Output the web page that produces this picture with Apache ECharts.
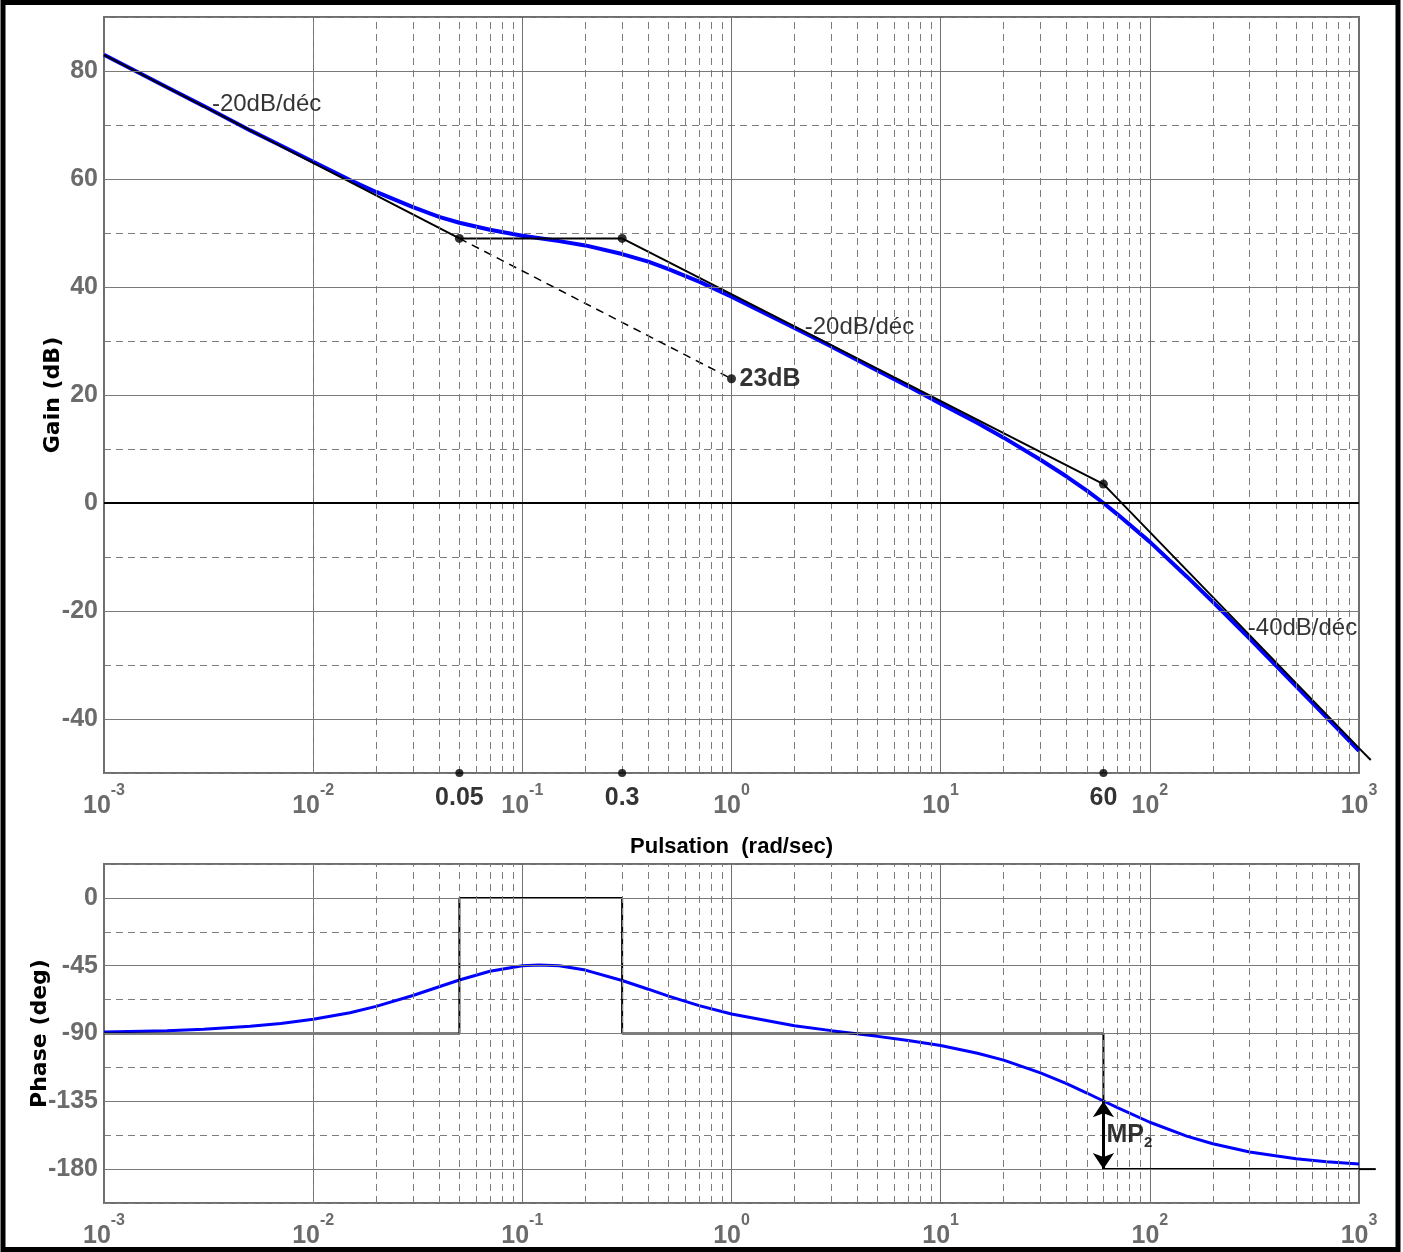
<!DOCTYPE html>
<html>
<head>
<meta charset="utf-8">
<script src="https://cdn.jsdelivr.net/npm/echarts@6/dist/echarts.min.js"></script>
<style>
html,body{margin:0;padding:0;background:#fff;}
#chart{width:1403px;height:1252px;}
</style>
</head>
<body>
<div id="chart"></div>
<script>
// ---------- data ----------
const decades = [0.001, 0.01, 0.1, 1, 10, 100, 1000];
const minorMultipliers = [2, 3, 4, 5, 6, 7, 8, 9];
const gainTicks = [-40, -20, 0, 20, 40, 60, 80];
const phaseTicks = [-180, -135, -90, -45, 0];

const freq = [0.001, 0.002, 0.003, 0.005, 0.007, 0.01, 0.015, 0.02, 0.03, 0.04, 0.05, 0.07,
  0.1, 0.15, 0.2, 0.3, 0.4, 0.5, 0.7, 1, 2, 3, 5, 7, 10, 15, 20, 30, 40, 50, 60, 70, 100, 150, 200, 300, 500, 700, 1000];
const gainDb = [83.0, 77.0, 73.5, 69.0, 66.2, 63.2, 59.8, 57.6, 54.8, 53.0, 51.9, 50.6,
  49.5, 48.5, 47.7, 46.1, 44.7, 43.3, 41.0, 38.2, 32.4, 29.0, 24.5, 21.6, 18.4, 14.8, 12.1, 8.0, 4.9, 2.3, 0.0, -2.1, -7.2, -13.6, -18.3, -25.1, -33.9, -39.7, -45.9];
const phaseFreq = [0.001, 0.002, 0.003, 0.005, 0.007, 0.01, 0.015, 0.02, 0.03, 0.04, 0.05, 0.07,
  0.1, 0.12, 0.15, 0.2, 0.3, 0.4, 0.5, 0.7, 1, 2, 3, 5, 7, 10, 15, 20, 30, 40, 50, 60, 70, 100, 150, 200, 300, 500, 700, 1000];
const phaseDeg = [-89.0, -88.1, -87.1, -85.2, -83.4, -80.6, -76.2, -72.0, -64.8, -59.0, -54.5, -48.7,
  -45.1, -44.5, -45.1, -47.9, -54.8, -60.6, -65.2, -71.5, -77.1, -84.8, -88.1, -91.9, -94.6, -98.0, -103.1, -107.7, -116.1, -123.3, -129.5, -134.8, -139.2, -148.9, -158.1, -163.2, -168.6, -173.1, -175.1, -176.6];

const asymGainFreq = [0.001, 0.05, 0.3, 60, 1000];
const asymGainDb = [83, 49, 49, 3.5, -45.4];
const asymGainTail = [1138, -47.6];        // end of the -40dB/déc asymptote (beyond the frame)
const refSlopeFreq = [0.05, 1];
const refSlopeDb = [49, 23];
const cornerFreq = [0.05, 0.3, 60];
const cornerLabels = ['0.05', '0.3', '60'];
const cornerDotFreq = [0.05, 0.3, 1, 60];
const cornerDotDb = [49, 49, 23, 3.5];

const asymPhaseFreq = [0.001, 0.05, 0.05, 0.3, 0.3, 60, 60];
const asymPhaseDeg = [-90, -90, 0, 0, -90, -90, -135];
const tailPhaseFreq = [60, 1000];
const tailPhaseDeg = [-180, -180];
const tailPhaseEnd = [1203, -180];          // end of the -180° line (beyond the frame)
const marginFreq = 60;
const marginFromDeg = -135;
const marginToDeg = -180;

const slopeTexts = ['-20dB/déc', '-20dB/déc', '-40dB/déc'];
const refText = '23dB';

// ---------- helpers ----------
const zip = (a, b) => a.map((v, i) => [v, b[i]]);
const minorFreqs = [];
decades.slice(0, -1).forEach(d => minorMultipliers.forEach(m => minorFreqs.push(d * m)));

const GRAY_TXT = '#6b6b6b';
const SANS = "'Liberation Sans', Arial, sans-serif";

function xAxisCfg(gridIndex, name) {
  return {
    type: 'log', logBase: 10, gridIndex, min: 0.001, max: 1000, splitNumber: 6,
    name: name || '', nameLocation: 'middle', nameGap: 63, nameMoveOverlap: false,
    nameTextStyle: { fontFamily: SANS, fontWeight: 'bold', fontSize: 22, color: '#000' },
    axisLine: { show: false }, axisTick: { show: false },
    splitLine: { show: true, lineStyle: { color: '#707070', width: 1 } },
    axisLabel: {
      margin: 10,
      formatter: v => '{b|10}{s|' + Math.round(Math.log10(v)) + '}',
      rich: {
        b: { fontFamily: SANS, fontWeight: 'bold', fontSize: 25, color: GRAY_TXT, lineHeight: 36, verticalAlign: 'bottom' },
        s: { fontFamily: SANS, fontWeight: 'bold', fontSize: 16, color: GRAY_TXT, lineHeight: 16, verticalAlign: 'top' }
      }
    }
  };
}

function gridLinesSeries(xi, yi, yMin, majors, thickZero) {
  const data = [];
  minorFreqs.forEach(f => data.push({ xAxis: f, lineStyle: { type: [7, 5], color: '#7c7c7c', width: 1 } }));
  majors.forEach(v => data.push({ yAxis: v, lineStyle: (thickZero && v === 0) ? { type: 'solid', color: '#000', width: 2 } : { type: 'solid', color: '#7a7a7a', width: 1 } }));
  return {
    type: 'line', xAxisIndex: xi, yAxisIndex: yi, z: 1, silent: true,
    data: [[0.001, yMin]], symbol: 'none', lineStyle: { opacity: 0 },
    markLine: { silent: true, symbol: 'none', animation: false, label: { show: false }, data }
  };
}

const chart = echarts.init(document.getElementById('chart'), null, { renderer: 'canvas' });

const option = {
  animation: false,
  backgroundColor: '#fff',
  grid: [
    { left: 104, top: 17, width: 1255, height: 756, show: true, borderColor: '#6e6e6e', borderWidth: 2, backgroundColor: 'transparent' },
    { left: 104, top: 864, width: 1255, height: 339, show: true, borderColor: '#6e6e6e', borderWidth: 2, backgroundColor: 'transparent' }
  ],
  xAxis: [xAxisCfg(0, 'Pulsation  (rad/sec)'), xAxisCfg(1)],
  yAxis: [
    {
      type: 'value', gridIndex: 0, min: -50, max: 90, interval: 10,
      name: 'Gain (dB)', nameLocation: 'middle', nameGap: 40, nameRotate: 90, nameMoveOverlap: false,
      nameTextStyle: { fontFamily: 'DejaVu Sans', fontWeight: 'bold', fontSize: 22, color: '#000' },
      axisLine: { show: false }, axisTick: { show: false },
      splitLine: { show: true, lineStyle: { type: [7, 5], color: '#7c7c7c', width: 1 } },
      axisLabel: {
        margin: 6, fontFamily: SANS, fontWeight: 'bold', fontSize: 25, color: GRAY_TXT,
        formatter: v => (gainTicks.indexOf(v) >= 0 ? String(v) : '')
      }
    },
    {
      type: 'value', gridIndex: 1, min: -202.5, max: 22.5, interval: 22.5,
      name: 'Phase (deg)', nameLocation: 'middle', nameGap: 53, nameRotate: 90, nameMoveOverlap: false,
      nameTextStyle: { fontFamily: 'DejaVu Sans', fontWeight: 'bold', fontSize: 22, color: '#000' },
      axisLine: { show: false }, axisTick: { show: false },
      splitLine: { show: true, lineStyle: { type: [7, 5], color: '#7c7c7c', width: 1 } },
      axisLabel: {
        margin: 6, fontFamily: SANS, fontWeight: 'bold', fontSize: 25, color: GRAY_TXT,
        formatter: v => (phaseTicks.indexOf(v) >= 0 ? String(v) : '')
      }
    }
  ],
  series: [
    gridLinesSeries(0, 0, -50, gainTicks, true),
    gridLinesSeries(1, 1, -202.5, phaseTicks, false),
    // gain curve
    { type: 'line', xAxisIndex: 0, yAxisIndex: 0, z: 3, data: zip(freq, gainDb), symbol: 'none', clip: false,
      lineStyle: { color: '#0000ff', width: 4 } },
    // asymptotes (gain)
    { type: 'line', xAxisIndex: 0, yAxisIndex: 0, z: 4, data: zip(asymGainFreq, asymGainDb), symbol: 'none', clip: false,
      lineStyle: { color: '#000', width: 2 } },
    { type: 'line', xAxisIndex: 0, yAxisIndex: 0, z: 4, data: zip(refSlopeFreq, refSlopeDb), symbol: 'none',
      lineStyle: { color: '#000', width: 1.5, type: [8, 6] } },
    { type: 'scatter', xAxisIndex: 0, yAxisIndex: 0, z: 5, data: zip(cornerDotFreq, cornerDotDb), symbol: 'circle', symbolSize: 9,
      itemStyle: { color: '#000' } },
    // 23dB label
    { type: 'scatter', xAxisIndex: 0, yAxisIndex: 0, z: 6, data: [[refSlopeFreq[1], refSlopeDb[1]]], symbolSize: 0,
      label: { show: true, position: 'right', distance: 8, formatter: refText,
        fontFamily: SANS, fontWeight: 'bold', fontSize: 25, color: '#000' } },
    // slope annotations
    { type: 'scatter', xAxisIndex: 0, yAxisIndex: 0, z: 6, symbolSize: 0,
      data: [
        { value: [0.00328, 73.8], label: { formatter: slopeTexts[0] } },
        { value: [2.24, 32.5], label: { formatter: slopeTexts[1] } },
        { value: [294, -23.2], label: { formatter: slopeTexts[2] } }
      ],
      label: { show: true, position: 'right', distance: 0, fontFamily: SANS, fontSize: 24, color: '#000' } },
    // corner markers on the frequency axis
    { type: 'scatter', xAxisIndex: 0, yAxisIndex: 0, z: 6, clip: false, symbol: 'circle', symbolSize: 8,
      itemStyle: { color: '#000' },
      data: cornerFreq.map((f, i) => ({ value: [f, -50], label: { formatter: cornerLabels[i] } })),
      label: { show: true, position: 'bottom', distance: 9, fontFamily: SANS, fontWeight: 'bold', fontSize: 25, color: '#000' } },
    // phase curve
    { type: 'line', xAxisIndex: 1, yAxisIndex: 1, z: 3, data: zip(phaseFreq, phaseDeg), symbol: 'none', clip: false,
      lineStyle: { color: '#0000ff', width: 3 } },
    // phase asymptote
    { type: 'line', xAxisIndex: 1, yAxisIndex: 1, z: 4, data: zip(asymPhaseFreq, asymPhaseDeg), symbol: 'none',
      lineStyle: { color: '#000', width: 2 } },
    { type: 'line', xAxisIndex: 1, yAxisIndex: 1, z: 4, data: zip(tailPhaseFreq, tailPhaseDeg), symbol: 'none', clip: false,
      lineStyle: { color: '#000', width: 2 } },
    // phase margin arrow + label
    { type: 'scatter', xAxisIndex: 1, yAxisIndex: 1, z: 6, symbolSize: 0,
      data: [[marginFreq, (marginFromDeg + marginToDeg) / 2]],
      label: { show: true, position: 'right', distance: 3, formatter: '{m|MP}{n|2}',
        rich: {
          m: { fontFamily: SANS, fontWeight: 'bold', fontSize: 25, color: '#000', lineHeight: 30 },
          n: { fontFamily: SANS, fontWeight: 'bold', fontSize: 15, color: '#000', verticalAlign: 'bottom', lineHeight: 15 }
        } },
      markLine: { silent: true, symbol: ['arrow', 'arrow'], symbolSize: [16, 16], label: { show: false },
        lineStyle: { color: '#000', width: 3, type: 'solid' },
        data: [[{ coord: [marginFreq, marginFromDeg] }, { coord: [marginFreq, marginToDeg] }]] } }
  ]
};
chart.setOption(option);

// extend the two asymptotes a little past the right edge of the frame (log-space extrapolation)
function pixelBeyond(gridIndex, point) {
  const p100 = chart.convertToPixel({ gridIndex }, [100, point[1]]);
  const p1000 = chart.convertToPixel({ gridIndex }, [1000, point[1]]);
  const x = p1000[0] + (p1000[0] - p100[0]) * Math.log10(point[0] / 1000);
  return [x, p1000[1]];
}
const gStart = chart.convertToPixel({ gridIndex: 0 }, [1000, asymGainDb[asymGainDb.length - 1]]);
const gEnd = pixelBeyond(0, asymGainTail);
const pStart = chart.convertToPixel({ gridIndex: 1 }, [1000, tailPhaseDeg[1]]);
const pEnd = pixelBeyond(1, tailPhaseEnd);
chart.setOption({
  graphic: [
    { type: 'rect', shape: { x: 3, y: 2.5, width: 1395, height: 1247 },
      style: { fill: 'none', stroke: '#000', lineWidth: 5 }, z: 100, silent: true },
    { type: 'line', shape: { x1: gStart[0], y1: gStart[1], x2: gEnd[0], y2: gEnd[1] },
      style: { stroke: '#000', lineWidth: 2 }, z: 50, silent: true },
    { type: 'line', shape: { x1: pStart[0], y1: pStart[1], x2: pEnd[0], y2: pEnd[1] },
      style: { stroke: '#000', lineWidth: 2 }, z: 50, silent: true }
  ]
});
</script>
</body>
</html>
